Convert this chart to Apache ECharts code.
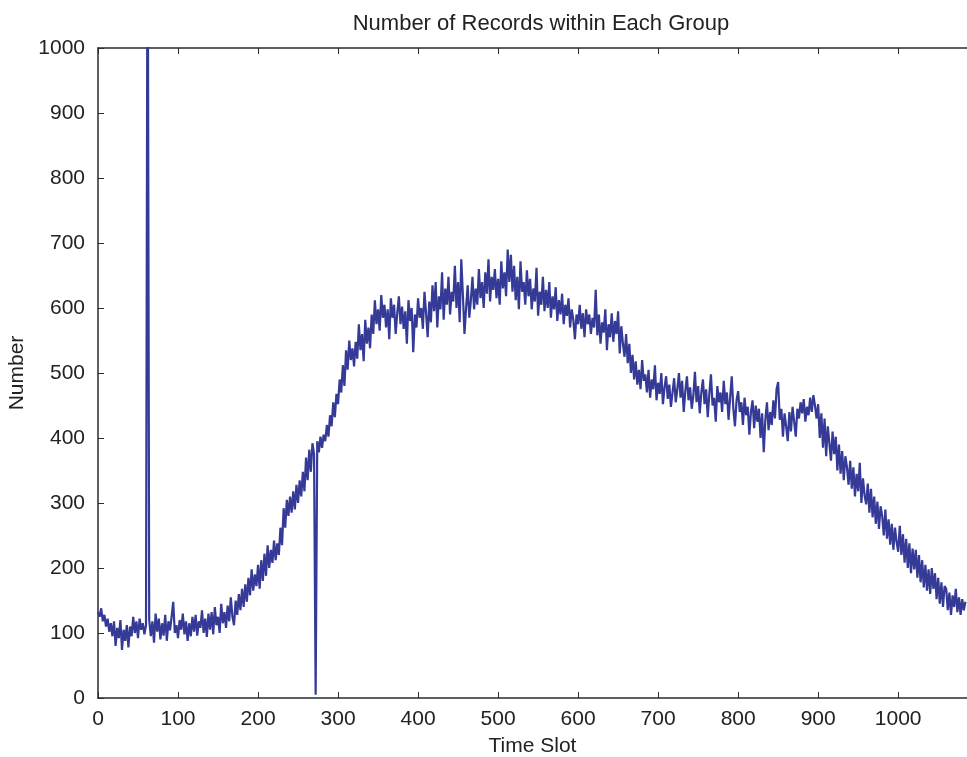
<!DOCTYPE html>
<html>
<head>
<meta charset="utf-8">
<title>Number of Records within Each Group</title>
<script src="https://cdn.jsdelivr.net/npm/echarts@6/dist/echarts.min.js"></script>
<style>
  html, body { margin: 0; padding: 0; background: #fff; }
  #chart { width: 967px; height: 757px; }
</style>
</head>
<body>
<div id="chart"></div>
<script>
// one reading every 2 time slots
const slotStep = 2;
const xTicks = [0, 100, 200, 300, 400, 500, 600, 700, 800, 900, 1000];
const records = [
  132, 125, 138, 118, 128, 110, 122, 102, 115, 95,
  118, 80, 108, 92, 120, 74, 105, 88, 112, 78,
  110, 95, 125, 100, 118, 92, 122, 105, 115, 98,
  112, 1300, 120, 95, 118, 85, 130, 102, 122, 90,
  115, 96, 128, 88, 118, 104, 125, 148, 100, 112,
  92, 120, 105, 130, 98, 118, 88, 115, 95, 125,
  102, 128, 96, 118, 108, 135, 100, 122, 94, 130,
  105, 132, 98, 140, 112, 125, 100, 145, 115, 132,
  108, 142, 118, 155, 125, 112, 150, 128, 160, 135,
  168, 140, 175, 148, 185, 158, 198, 165, 190, 172,
  205, 168, 212, 180, 222, 188, 235, 200, 228, 208,
  242, 212, 238, 220, 262, 235, 292, 262, 305, 280,
  310, 285, 318, 290, 328, 300, 335, 310, 348, 318,
  370, 335, 382, 348, 392, 375, 5, 395, 378, 402,
  385, 405, 395, 420, 402, 435, 418, 455, 432, 468,
  452, 490, 470, 512, 480, 535, 505, 550, 520, 538,
  510, 548, 522, 575, 535, 560, 518, 582, 545, 570,
  538, 590, 560, 612, 575, 598, 565, 620, 585, 605,
  570, 598, 552, 615, 585, 605, 560, 592, 618, 575,
  602, 568, 595, 545, 612, 580, 600, 532, 590, 570,
  615, 585, 600, 568, 625, 592, 555, 610, 578, 635,
  595, 640, 570, 618, 598, 655, 582, 630, 605, 648,
  590, 625, 610, 665, 600, 640, 578, 675, 620, 560,
  600, 635, 585, 612, 648, 598, 630, 605, 660, 615,
  640, 600, 655, 622, 675, 610, 648, 628, 660, 615,
  645, 605, 672, 630, 655, 618, 690, 640, 682, 625,
  665, 612, 648, 598, 672, 625, 640, 605, 658, 618,
  645, 598, 630, 610, 662, 588, 625, 605, 648, 595,
  628, 600, 640, 585, 618, 598, 632, 580, 612, 590,
  622, 575, 605, 588, 615, 570, 598, 582, 552, 590,
  575, 605, 568, 592, 555, 598, 575, 590, 560, 585,
  570, 628, 558, 590, 545, 578, 562, 598, 535, 575,
  555, 592, 548, 580, 560, 595, 530, 572, 545, 525,
  560, 515, 545, 500, 528, 490, 518, 482, 505, 475,
  520, 488, 498, 470, 505, 462, 490, 475, 512, 458,
  485, 468, 500, 452, 478, 495, 460, 482, 448, 470,
  492, 455, 475, 500, 462, 488, 440, 472, 495, 458,
  478, 445, 465, 502, 455, 480, 438, 470, 490, 452,
  475, 432, 468, 498, 450, 462, 425, 480, 455, 470,
  440, 488, 452, 470, 428, 462, 495, 445, 418, 458,
  472, 440, 455, 420, 462, 435, 448, 405, 440, 458,
  415, 450, 425, 445, 400, 438, 378, 428, 455, 412,
  440, 420, 458, 430, 475, 486, 428, 445, 402, 438,
  418, 395, 440, 410, 448, 425, 402, 445, 430, 455,
  438, 460, 425, 448, 435, 462, 440, 466, 450, 430,
  452, 400, 438, 385, 430, 372, 418, 392, 365, 410,
  375, 402, 350, 390, 345, 380, 335, 372, 355, 328,
  365, 322, 355, 310, 345, 318, 362, 300, 338, 312,
  298, 330, 285, 322, 278, 310, 268, 302, 260, 295,
  280, 250, 290, 245, 275, 236, 268, 228, 262, 240,
  225, 265, 220, 252, 208, 245, 200, 238, 192, 230,
  198, 228, 185, 220, 178, 212, 170, 205, 165, 198,
  160, 200, 168, 192, 152, 185, 145, 178, 140, 172,
  168, 135, 162, 128, 158, 140, 168, 132, 155, 128,
  152, 135, 148
];

const chart = echarts.init(document.getElementById('chart'));
const font = 'Liberation Sans, Arial, Helvetica, sans-serif';
const axisColor = '#2b2b2b';

const points = records.map((v, i) => [i * slotStep, v]);

const option = {
  animation: false,
  backgroundColor: '#fff',
  title: {
    text: 'Number of Records within Each Group',
    left: 536,
    top: 8,
    textAlign: 'center',
    textStyle: { fontFamily: font, fontSize: 22, fontWeight: 'normal', color: '#222' },
  },
  grid: { left: 98, right: 0, top: 48, bottom: 59, outerBoundsMode: 'none' },
  xAxis: [
    {
      type: 'value',
      min: 0,
      max: 1086,
      interval: 100,
      name: 'Time Slot',
      nameLocation: 'middle',
      nameGap: 38,
      nameTextStyle: { fontFamily: font, fontSize: 21, color: '#222' },
      axisLine: { show: true, lineStyle: { color: axisColor, width: 1.5 } },
      axisTick: { show: true, inside: true, length: 6, lineStyle: { color: axisColor } },
      axisLabel: {
        fontFamily: font, fontSize: 21, color: '#222', margin: 11,
        showMaxLabel: false,
        formatter: v => (xTicks.indexOf(v) >= 0 ? String(v) : ''),
      },
      splitLine: { show: false },
    },
    {
      type: 'value',
      position: 'top',
      min: 0,
      max: 1086,
      interval: 100,
      axisLine: { show: true, lineStyle: { color: axisColor, width: 1.5 } },
      axisTick: { show: true, inside: true, length: 6, lineStyle: { color: axisColor } },
      axisLabel: { show: false },
      splitLine: { show: false },
    },
  ],
  yAxis: {
    type: 'value',
    min: 0,
    max: 1000,
    interval: 100,
    name: 'Number',
    nameLocation: 'middle',
    nameGap: 66,
    nameRotate: 90,
    nameTextStyle: { fontFamily: font, fontSize: 21, color: '#222' },
    axisLine: { show: true, lineStyle: { color: axisColor, width: 1.5 } },
    axisTick: { show: true, inside: true, length: 6, lineStyle: { color: axisColor } },
    axisLabel: { fontFamily: font, fontSize: 21, color: '#222', margin: 13, formatter: v => String(v) },
    splitLine: { show: false },
  },
  series: [
    {
      type: 'line',
      data: points,
      showSymbol: false,
      clip: true,
      lineStyle: { color: '#343a96', width: 2.2 },
    },
  ],
};

chart.setOption(option);
</script>
</body>
</html>
